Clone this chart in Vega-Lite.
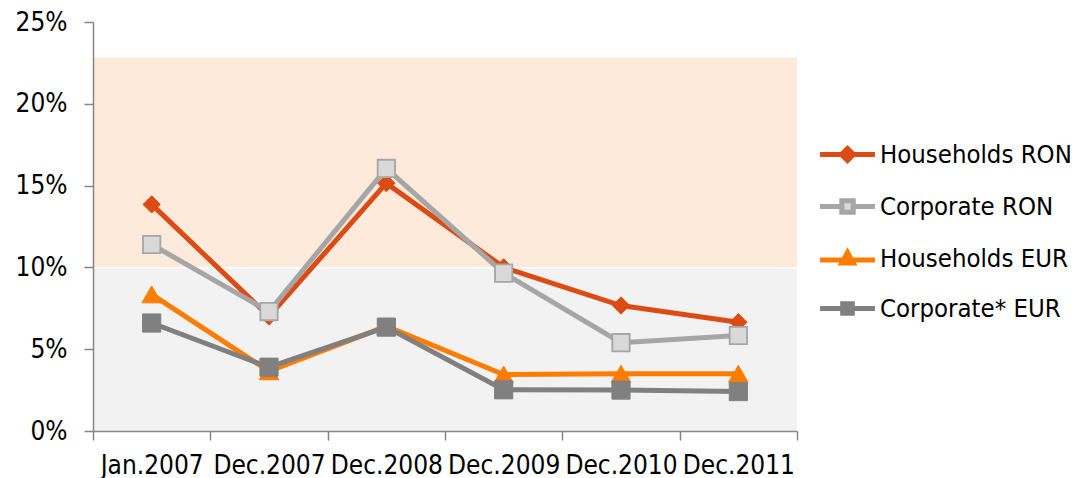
{
  "$schema": "https://vega.github.io/schema/vega-lite/v6.json",
  "width": 704,
  "height": 409,
  "autosize": {"type": "none"},
  "padding": {"left": 93, "top": 22, "right": 282, "bottom": 47},
  "background": "white",
  "config": {
    "view": {"stroke": null},
    "font": "DejaVu Sans Condensed, Noto Sans"
  },
  "datasets": {
    "bands": [
      {"band": "low", "lo": 0, "hi": 9.93},
      {"band": "high", "lo": 10.03, "hi": 22.83}
    ],
    "rates": [
      {"series": "Households RON", "period": "Jan.2007", "value": 13.85},
      {"series": "Households RON", "period": "Dec.2007", "value": 7.0},
      {"series": "Households RON", "period": "Dec.2008", "value": 15.15},
      {"series": "Households RON", "period": "Dec.2009", "value": 10.0},
      {"series": "Households RON", "period": "Dec.2010", "value": 7.67},
      {"series": "Households RON", "period": "Dec.2011", "value": 6.65},
      {"series": "Corporate RON", "period": "Jan.2007", "value": 11.4},
      {"series": "Corporate RON", "period": "Dec.2007", "value": 7.3},
      {"series": "Corporate RON", "period": "Dec.2008", "value": 16.05},
      {"series": "Corporate RON", "period": "Dec.2009", "value": 9.65},
      {"series": "Corporate RON", "period": "Dec.2010", "value": 5.4},
      {"series": "Corporate RON", "period": "Dec.2011", "value": 5.84},
      {"series": "Households EUR", "period": "Jan.2007", "value": 8.35},
      {"series": "Households EUR", "period": "Dec.2007", "value": 3.65},
      {"series": "Households EUR", "period": "Dec.2008", "value": 6.4},
      {"series": "Households EUR", "period": "Dec.2009", "value": 3.45},
      {"series": "Households EUR", "period": "Dec.2010", "value": 3.5},
      {"series": "Households EUR", "period": "Dec.2011", "value": 3.5},
      {"series": "Corporate* EUR", "period": "Jan.2007", "value": 6.6},
      {"series": "Corporate* EUR", "period": "Dec.2007", "value": 3.9},
      {"series": "Corporate* EUR", "period": "Dec.2008", "value": 6.35},
      {"series": "Corporate* EUR", "period": "Dec.2009", "value": 2.52},
      {"series": "Corporate* EUR", "period": "Dec.2010", "value": 2.5},
      {"series": "Corporate* EUR", "period": "Dec.2011", "value": 2.41}
    ]
  },
  "layer": [
    {
      "data": {"name": "bands"},
      "transform": [{"filter": "datum.band === 'low'"}],
      "mark": {"type": "rect", "color": "#F2F2F2"},
      "encoding": {
        "y": {"field": "lo", "type": "quantitative", "title": null, "scale": {"domain": [0, 25], "nice": false, "zero": true},
          "axis": {"values": [0, 5, 10, 15, 20, 25], "labelExpr": "datum.value + '%'", "zindex": 1, "grid": false,
            "domainColor": "#868686", "domainWidth": 1.5, "tickColor": "#868686", "tickWidth": 1.5, "tickSize": 9,
            "labelPadding": 17, "labelFont": "DejaVu Sans Condensed, Noto Sans", "labelFontSize": 26, "labelColor": "#000000"}},
        "y2": {"field": "hi"}
      }
    },
    {
      "data": {"name": "bands"},
      "transform": [{"filter": "datum.band === 'high'"}],
      "mark": {"type": "rect", "color": "#FDEADA"},
      "encoding": {
        "y": {"field": "lo", "type": "quantitative", "title": null},
        "y2": {"field": "hi"}
      }
    },
    {
      "data": {"name": "rates"},
      "mark": {"type": "line", "strokeWidth": 5},
      "encoding": {
        "x": {"field": "period", "type": "ordinal", "title": null,
          "scale": {"type": "band", "paddingInner": 0, "paddingOuter": 0, "domain": ["Jan.2007", "Dec.2007", "Dec.2008", "Dec.2009", "Dec.2010", "Dec.2011"]},
          "axis": {"zindex": 1, "grid": false, "tickBand": "extent", "labelAngle": 0,
            "domainColor": "#868686", "domainWidth": 1.5, "tickColor": "#868686", "tickWidth": 1.5, "tickSize": 9,
            "labelPadding": 12, "labelFont": "DejaVu Sans Condensed, Noto Sans", "labelFontSize": 26, "labelColor": "#000000"}},
        "y": {"field": "value", "type": "quantitative", "title": null},
        "stroke": {
          "field": "series",
          "type": "nominal",
          "scale": {"domain": ["Households RON", "Corporate RON", "Households EUR", "Corporate* EUR"], "range": ["#DD4B14", "#A6A6A6", "#FF7C00", "#808080"]},
          "legend": {
            "orient": "none",
            "legendX": 737,
            "legendY": 115,
            "title": null,
            "padding": 0,
            "symbolSize": 900,
            "rowPadding": 18,
            "labelOffset": 15,
            "labelLimit": 400,
            "labelFont": "DejaVu Sans Condensed, Noto Sans",
            "labelFontSize": 25.5,
            "labelColor": "#000000",
            "symbolStrokeWidth": 5,
            "encode": {
              "symbols": {
                "update": {
                  "shape": {"signal": "datum.value === 'Households RON' ? 'M-1.83,0L1.83,0M0,-0.4L0.4,0L0,0.4L-0.4,0Z' : datum.value === 'Corporate RON' ? 'M-1.83,0L-0.38,0M0.38,0L1.83,0M-0.38,-0.38L0.38,-0.38L0.38,0.38L-0.38,0.38Z' : datum.value === 'Households EUR' ? 'M-1.83,0.1L1.83,0.1M0,-0.4L0.38,0.3L-0.38,0.3Z' : 'M-1.83,0L1.83,0M-0.32,-0.32L0.32,-0.32L0.32,0.32L-0.32,0.32Z'"},
                  "fill": {"signal": "datum.value === 'Households RON' ? '#DD4B14' : datum.value === 'Corporate RON' ? '#D9D9D9' : datum.value === 'Households EUR' ? '#FF7C00' : '#808080'"},
                  "stroke": {"signal": "datum.value === 'Households RON' ? '#DD4B14' : datum.value === 'Corporate RON' ? '#A6A6A6' : datum.value === 'Households EUR' ? '#FF7C00' : '#808080'"},
                  "strokeWidth": {"value": 5},
                  "opacity": {"value": 1}
                }
              }
            }
          }
        }
      }
    },
    {
      "data": {"name": "rates"},
      "transform": [{"filter": "datum.series === 'Households RON'"}],
      "mark": {"type": "point", "shape": "diamond", "filled": true, "opacity": 1, "size": 300, "fill": "#DD4B14", "stroke": "#DD4B14", "strokeWidth": 1},
      "encoding": {
        "x": {"field": "period", "type": "ordinal", "title": null},
        "y": {"field": "value", "type": "quantitative", "title": null}
      }
    },
    {
      "data": {"name": "rates"},
      "transform": [{"filter": "datum.series === 'Corporate RON'"}],
      "mark": {"type": "point", "shape": "square", "filled": true, "opacity": 1, "size": 300, "fill": "#D9D9D9", "stroke": "#A6A6A6", "strokeWidth": 1.8},
      "encoding": {
        "x": {"field": "period", "type": "ordinal", "title": null},
        "y": {"field": "value", "type": "quantitative", "title": null}
      }
    },
    {
      "data": {"name": "rates"},
      "transform": [{"filter": "datum.series === 'Households EUR'"}],
      "mark": {"type": "point", "shape": "triangle-up", "filled": true, "opacity": 1, "size": 380, "fill": "#FF7C00", "stroke": "#FF7C00", "strokeWidth": 1},
      "encoding": {
        "x": {"field": "period", "type": "ordinal", "title": null},
        "y": {"field": "value", "type": "quantitative", "title": null}
      }
    },
    {
      "data": {"name": "rates"},
      "transform": [{"filter": "datum.series === 'Corporate* EUR'"}],
      "mark": {"type": "point", "shape": "square", "filled": true, "opacity": 1, "size": 330, "fill": "#808080", "stroke": "#808080", "strokeWidth": 1},
      "encoding": {
        "x": {"field": "period", "type": "ordinal", "title": null},
        "y": {"field": "value", "type": "quantitative", "title": null}
      }
    }
  ]
}
